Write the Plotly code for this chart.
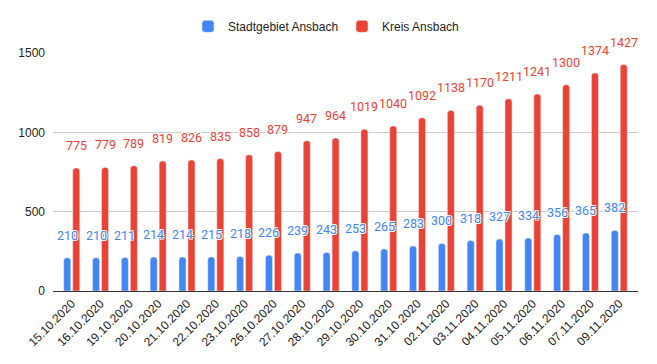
import plotly.graph_objects as go

dates = ["15.10.2020", "16.10.2020", "19.10.2020", "20.10.2020", "21.10.2020",
         "22.10.2020", "23.10.2020", "26.10.2020", "27.10.2020", "28.10.2020",
         "29.10.2020", "30.10.2020", "31.10.2020", "02.11.2020", "03.11.2020",
         "04.11.2020", "05.11.2020", "06.11.2020", "07.11.2020", "09.11.2020"]
stadt = [210, 210, 211, 214, 214, 215, 218, 226, 239, 243,
         253, 265, 283, 300, 318, 327, 334, 356, 365, 382]
kreis = [775, 779, 789, 819, 826, 835, 858, 879, 947, 964,
         1019, 1040, 1092, 1138, 1170, 1211, 1241, 1300, 1374, 1427]
yticks = [0, 500, 1000, 1500]

BLUE = "#4285F4"
RED = "#EA4335"
FONT = "Roboto"
AXFONT = "Arial, Liberation Sans"

fig = go.Figure()
fig.add_trace(go.Bar(x=dates, y=stadt, name="Stadtgebiet Ansbach",
                     marker=dict(color=BLUE, cornerradius=3)))
fig.add_trace(go.Bar(x=dates, y=kreis, name="Kreis Ansbach",
                     marker=dict(color=RED, cornerradius=3)))

halo = "1px 1px 0 #fff, -1px -1px 0 #fff, 1px -1px 0 #fff, -1px 1px 0 #fff"
annotations = []
for series, color, dx in ((stadt, BLUE, -4.5), (kreis, RED, 4.5)):
    for d, v in zip(dates, series):
        annotations.append(dict(
            x=d, y=v, xref="x", yref="y", text=str(v), showarrow=False,
            xanchor="center", yanchor="bottom", xshift=dx, yshift=13,
            font=dict(family=FONT, size=12.5, color=color, shadow=halo)))

fig.update_layout(
    width=657, height=364,
    margin=dict(l=53, r=19, t=51, b=73),
    paper_bgcolor="white", plot_bgcolor="white",
    barmode="group", bargap=0.375, bargroupgap=0.22,
    font=dict(family=AXFONT, size=12, color="#222222"),
    legend=dict(orientation="h", x=0.2308, xanchor="left", y=1.112, yanchor="middle",
                font=dict(family=AXFONT, size=12, color="#222222"),
                entrywidth=109, entrywidthmode="pixels", traceorder="normal"),
    annotations=annotations,
    xaxis=dict(range=[-0.65, 19.65], tickangle=-45, showgrid=False, showline=True,
               linecolor="#333333", linewidth=1, ticks="", automargin=False,
               tickfont=dict(family=AXFONT, size=12, color="#222222")),
    yaxis=dict(range=[0, 1500], tickvals=yticks, showgrid=True, gridcolor="#cccccc",
               zeroline=True, zerolinecolor="#333333", zerolinewidth=1,
               ticks="", ticklabelstandoff=7, automargin=False,
               tickfont=dict(family=AXFONT, size=12, color="#222222")),
)

fig.write_html("out.html", config={"displayModeBar": False},
               post_script="document.body.style.margin='0';")
